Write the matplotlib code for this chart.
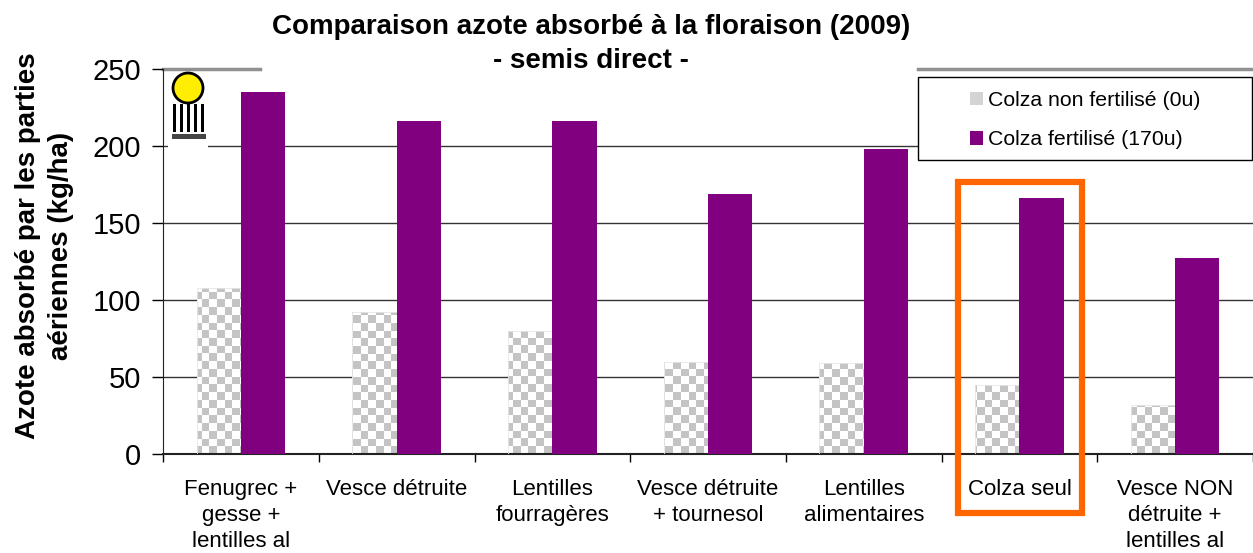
import numpy as np
import matplotlib
matplotlib.use('Agg')
import matplotlib.pyplot as plt
from matplotlib.patches import Rectangle, Ellipse, Patch

plt.rcParams['font.family'] = ['Liberation Sans', 'DejaVu Sans']

categories = ['Fenugrec +\ngesse +\nlentilles al', 'Vesce détruite', 'Lentilles\nfourragères',
              'Vesce détruite\n+ tournesol', 'Lentilles\nalimentaires', 'Colza seul',
              'Vesce NON\ndétruite +\nlentilles al']
non_fert = [108, 92, 80, 60, 59, 45, 32]
fert = [235, 216, 216, 169, 198, 166, 127]
yticks = [0, 50, 100, 150, 200, 250]

PURPLE = '#800080'
CHECK = '#c4c4c4'
W, H = 1253, 553

fig = plt.figure(figsize=(W / 100, H / 100), dpi=100)
ax = fig.add_axes([163.2 / W, 99 / H, (W - 163.2) / W, 385 / H])

x = np.arange(len(categories))
w = 0.285
off = 0.142
xlim = (-0.5, 6.437)

# gray bars: outline only, filled with a checker pattern clipped to each bar
gray_bars = ax.bar(x - off, non_fert, w, facecolor='none', edgecolor='#e6e6e6', linewidth=0.6, zorder=3)
ny, nx = 50, 142
checker = (np.indices((ny, nx)).sum(axis=0) % 2).astype(float)
cmap = matplotlib.colors.ListedColormap(['white', CHECK])
for b in gray_bars:
    im = ax.imshow(checker, extent=(xlim[0], xlim[1], 0, 250), cmap=cmap, aspect='auto',
                   interpolation='nearest', zorder=2)
    im.set_clip_path(b)

ax.bar(x + off, fert, w, color=PURPLE, zorder=3)

ax.set_xlim(*xlim)
ax.set_ylim(0, 250)
ax.set_yticks(yticks)
ax.tick_params(axis='y', labelsize=21, length=8, width=1, pad=8)
ax.set_xticks(x)
ax.set_xticklabels(categories, fontsize=16, linespacing=1.3)
ax.set_xticks(np.arange(-0.5, 7, 1), minor=True)
ax.tick_params(axis='x', which='major', length=0, pad=18)
ax.tick_params(axis='x', which='minor', length=6, width=1)
for yv in yticks[1:-1]:
    ax.axhline(yv, color='#333333', linewidth=1, zorder=1)
ax.spines['right'].set_visible(False)
ax.spines['top'].set_visible(False)
ax.spines['left'].set_color('#222222')
ax.spines['bottom'].set_color('#222222')
ax.spines['bottom'].set_linewidth(1.5)

# top border of the plot area, broken by the title and the legend
for x0, x1 in [(163.2, 260), (918, W)]:
    ax.plot([(x0 - 163.2) / 1089.8, (x1 - 163.2) / 1089.8], [1, 1], transform=ax.transAxes,
            color='#909090', linewidth=2.5, clip_on=False, zorder=1)

ax.set_ylabel('Azote absorbé par les parties\naériennes (kg/ha)', fontsize=20,
              fontweight='bold', linespacing=1.35)
ax.yaxis.set_label_coords(-0.082, 0.54)

fig.text(0.472, 0.975, 'Comparaison azote absorbé à la floraison (2009)\n- semis direct -',
         ha='center', va='top', fontsize=20, fontweight='bold', linespacing=1.4)

# highlight box around "Colza seul"
ax.add_patch(Rectangle((5 - 0.397, -38.5), 0.796, 215.3, fill=False, edgecolor='#ff6600',
                       linewidth=4.5, clip_on=False, zorder=5))

# legend: box drawn separately, entries placed inside it
fig.patches.append(Rectangle((918 / W, 1 - 160 / H), (W - 919) / W, 83 / H,
                             transform=fig.transFigure, facecolor='white', edgecolor='black',
                             linewidth=1, zorder=4))
handles = [Patch(facecolor='#d4d4d4', edgecolor='none'), Patch(facecolor=PURPLE, edgecolor='none')]
leg = fig.legend(handles, ['Colza non fertilisé (0u)', 'Colza fertilisé (170u)'],
                 loc='upper left', bbox_to_anchor=(968 / W, 1 - 89 / H), fontsize=15.3,
                 frameon=False, handlelength=0.6, handleheight=0.6, handletextpad=0.25,
                 labelspacing=0.95, borderpad=0.1, borderaxespad=0)
leg.set_zorder(6)

# small logo in the upper left corner
fig.patches.append(Rectangle((168 / W, 1 - 148 / H), 40 / W, 74 / H,
                             transform=fig.transFigure, facecolor='white', edgecolor='none', zorder=4))
fig.patches.append(Ellipse((188 / W, 1 - 88 / H), 30 / W, 30 / H, transform=fig.transFigure,
                           facecolor='#ffee00', edgecolor='black', linewidth=2, zorder=5))
for i in range(5):
    fig.patches.append(Rectangle(((173 + i * 7) / W, 1 - 132 / H), 3 / W, 28 / H,
                                 transform=fig.transFigure, facecolor='black', zorder=5))
fig.patches.append(Rectangle((172 / W, 1 - 139 / H), 34 / W, 5 / H,
                             transform=fig.transFigure, facecolor='#444444', zorder=5))

fig.savefig('out.png', dpi=100)
